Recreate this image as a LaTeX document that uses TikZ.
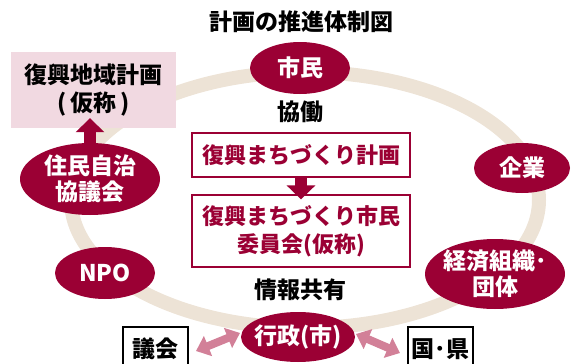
\documentclass[tikz,border=0pt]{standalone}
\usepackage{fontspec}
\setmainfont{Noto Sans CJK JP}
\usetikzlibrary{shapes.geometric,arrows.meta}
\definecolor{wine}{RGB}{155,0,52}
\definecolor{ringc}{RGB}{237,227,214}
\definecolor{pinkbox}{RGB}{241,217,225}
\definecolor{pinkarrow}{RGB}{210,128,152}
\tikzset{
  txt/.style={font=\fontsize{23}{28}\selectfont\bfseries, inner sep=0pt},
  oval/.style={ellipse, fill=wine, text=white, inner sep=-40pt, align=center, font=\fontsize{23}{26}\selectfont\bfseries},
  redbox/.style={draw=wine, line width=1.2pt, fill=white, text=wine, align=center, inner sep=0pt, minimum width=218pt, font=\fontsize{22}{28}\selectfont\bfseries},
  blackbox/.style={draw=black, line width=1.2pt, fill=white, text=black, inner sep=0pt, minimum width=65pt, minimum height=44pt, font=\fontsize{23}{28}\selectfont\bfseries},
  fatarrow/.style={wine, line width=12pt, -{Triangle[length=14pt,width=28pt]}},
  dblarrow/.style={pinkarrow, line width=8pt, {Triangle[length=13pt,width=21pt]}-{Triangle[length=13pt,width=21pt]}}
}
\begin{document}
\begin{tikzpicture}[x=1pt,y=-1pt]
\useasboundingbox (0,0) rectangle (576,364);
\draw[ringc, line width=14pt] (305,200) ellipse [x radius=234pt, y radius=128pt];
\node[txt] (title) at (301,22) {計画の推進体制図};
\node[fill=pinkbox, minimum width=165pt, minimum height=76pt, inner sep=0pt, align=center, font=\fontsize{23}{28}\selectfont\bfseries] (plan) at (93.5,90) {復興地域計画\\(\,仮称\,)};
\node[oval, minimum width=140pt, minimum height=72pt] (jumin) at (90,179) {住民自治\\協議会};
\draw[fatarrow, shorten >=-10pt] (jumin.north) -- (jumin.north |- plan.south);
\node[oval, minimum width=100pt, minimum height=52pt] (shimin) at (300,68) {市民};
\node[oval, minimum width=96pt, minimum height=50pt] (kigyo) at (522,168) {企業};
\node[oval, minimum width=140pt, minimum height=70pt] (keizai) at (495,274) {経済組織･\\団体};
\node[oval, minimum width=100pt, minimum height=52pt] (npo) at (105,273) {NPO};
\node[oval, minimum width=114pt, minimum height=50pt] (gyosei) at (298,337) {行政(市)};
\node[txt] (kyodo) at (300,112) {協働};
\node[txt] (joho) at (300,290) {情報共有};
\node[redbox, minimum height=44pt] (box1) at (301,155) {復興まちづくり計画};
\node[redbox, minimum height=72pt] (box2) at (301,231) {復興まちづくり市民\\委員会(仮称)};
\draw[fatarrow, shorten >=-5pt] (box1.south) -- (box2.north);
\node[blackbox] (gikai) at (155.5,349) {議会};
\node[blackbox] (kuni) at (440.5,349) {国･県};
\coordinate (la) at (196,351);
\coordinate (lb) at (240,333);
\coordinate (ra) at (356,334);
\coordinate (rb) at (400,353);
\draw[dblarrow] (la) -- (lb);
\draw[dblarrow] (ra) -- (rb);
\end{tikzpicture}
\end{document}
